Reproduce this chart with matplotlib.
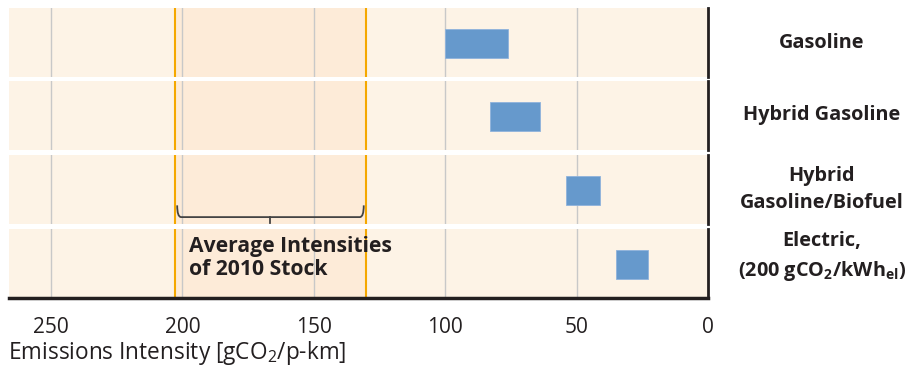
#!/usr/bin/env python
# -*- coding: utf-8 -*-

# Emissions intensity ranges of passenger vehicles
import matplotlib as mpl
import matplotlib.pyplot as plt
from matplotlib.patches import PathPatch
from matplotlib.path import Path

# Data
vehicles = ['Gasoline', 'Hybrid Gasoline', 'Hybrid\nGasoline/Biofuel',
            'Electric,\n(200 gCO$\\mathregular{_2}$/kWh$\\mathregular{_{el}}$)']
range_high = [100, 83, 54, 35]
range_low = [76, 64, 41, 23]
stock_avg = [203, 130]
ticks = [250, 200, 150, 100, 50, 0]

mpl.rcParams['font.family'] = ['Open Sans', 'DejaVu Sans']
mpl.rcParams['mathtext.fontset'] = 'custom'
mpl.rcParams['mathtext.rm'] = 'Open Sans'

W, H = 906, 371
bg = '#fdf3e6'
shade = '#fdebd8'
orange = '#f5a800'
grid = '#c8c8c8'
bar_col = '#6699cc'
txt = '#231f20'

# panel pixel extents (top, bottom) and label centres
rows = [(8, 77), (81, 150), (155, 224), (229, 298)]
label_y = [43, 115, 189.5, 257]
x0, x1 = 9, 708

fig = plt.figure(figsize=(W / 100, H / 100), dpi=100)
axes = []
for i, (yt, yb) in enumerate(rows):
    ax = fig.add_axes((x0 / W, 1 - yb / H, (x1 - x0) / W, (yb - yt) / H))
    ax.set_facecolor(bg)
    ax.set_xlim(266, 0)
    ax.set_ylim(0, 1)
    ax.axvspan(stock_avg[0], stock_avg[1], color=shade, lw=0, zorder=0)
    for t in ticks[:-1]:
        ax.axvline(t, color=grid, lw=1, zorder=1)
    for v in stock_avg:
        ax.axvline(v, color=orange, lw=1.5, zorder=2)
    ax.barh(0.49, range_high[i] - range_low[i], left=range_low[i], height=0.42,
            color=bar_col, edgecolor='#8fb3dc', lw=0.6, zorder=3)
    for s in ['top', 'left', 'bottom']:
        ax.spines[s].set_visible(False)
    ax.spines['right'].set_color(txt)
    ax.spines['right'].set_linewidth(2)
    ax.set_yticks([])
    ax.set_xticks(ticks)
    ax.tick_params(length=0)
    if i < 3:
        ax.set_xticklabels([])
    fig.text(822 / W, 1 - label_y[i] / H, vehicles[i], ha='center', va='center',
             fontsize=14.3, fontweight='bold', color=txt, linespacing=1.5)
    axes.append(ax)

last = axes[-1]
last.spines['bottom'].set_visible(True)
last.spines['bottom'].set_color(txt)
last.spines['bottom'].set_linewidth(2.5)
last.tick_params(axis='x', pad=14, labelsize=15, labelcolor=txt)

# bracket under the stock average
ax3 = axes[2]
a, b = 202, 131
mid = (a + b) / 2
verts = [(a, 0.27), (a, 0.10), (a - 1.5, 0.10), (b + 1.5, 0.10), (b, 0.10), (b, 0.27)]
codes = [Path.MOVETO, Path.CURVE3, Path.CURVE3, Path.LINETO, Path.CURVE3, Path.CURVE3]
ax3.add_patch(PathPatch(Path(verts, codes), fill=False, ec='#444444', lw=1.3, zorder=4))
ax3.plot([mid, mid], [0.10, 0.02], color='#444444', lw=1.3, zorder=4)

fig.text(189 / W, 1 - 258 / H, 'Average Intensities\nof 2010 Stock', ha='left', va='center',
         fontsize=15.2, fontweight='bold', color=txt, linespacing=1.08)

fig.text(8 / W, 1 - 353 / H, 'Emissions Intensity [gCO$\\mathregular{_2}$/p-km]',
         ha='left', va='center', fontsize=16.3, color=txt)

plt.savefig('out.png', dpi=100)
